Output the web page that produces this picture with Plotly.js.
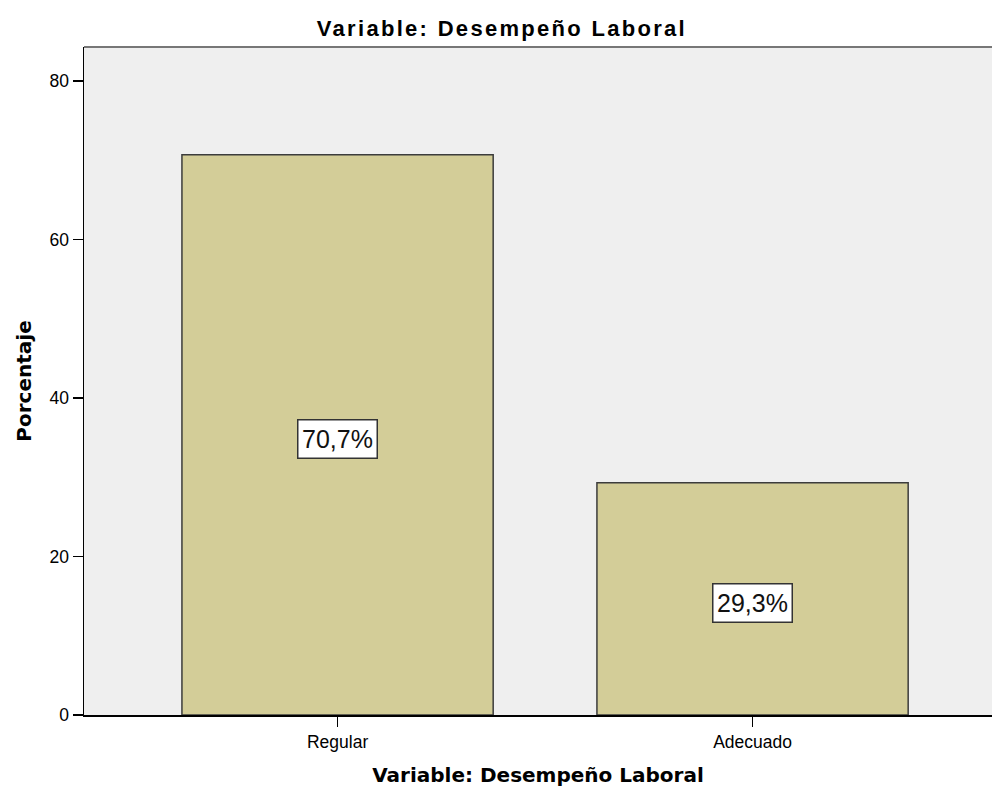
<!DOCTYPE html>
<html><head><meta charset="utf-8">
<script src="https://cdn.plot.ly/plotly-3.0.1.min.js"></script>
<style>
html,body{margin:0;padding:0;background:#fff}
#chart .gtitle{letter-spacing:2.3px}
</style>
</head><body>
<div id="chart" style="width:992px;height:792px"></div>
<script>
const categories = ["Regular", "Adecuado"];
const percentages = [70.7, 29.3];
const labels = ["70,7%", "29,3%"];
const yTicks = [0, 20, 40, 60, 80];

const trace = {
  type: "bar",
  x: categories,
  y: percentages,
  width: 0.75,
  marker: {color: "#D3CD98", line: {color: "#3c3c3c", width: 1.5}},
  hoverinfo: "skip"
};

const annotations = categories.map((c, i) => ({
  x: c, y: percentages[i] / 2, xref: "x", yref: "y", yshift: -4,
  text: labels[i], showarrow: false,
  font: {family: "Liberation Sans, Arial, sans-serif", size: 25, color: "#111"},
  bgcolor: "#ffffff", bordercolor: "#333", borderwidth: 1.5, borderpad: 1,
  width: 76, height: 35
}));

const layout = {
  width: 992, height: 792,
  margin: {l: 84, r: 0, t: 47, b: 77},
  paper_bgcolor: "#ffffff",
  plot_bgcolor: "#EFEFEF",
  showlegend: false,
  title: {text: "<b>Variable: Desempeño Laboral</b>", xref: "container", x: 0.506, xanchor: "center",
    yref: "container", y: 0.964, yanchor: "middle",
    font: {family: "Liberation Sans, Arial, sans-serif", size: 22, color: "#000"}},
  xaxis: {
    type: "category", range: [-0.611, 1.577],
    showline: true, linecolor: "#000", linewidth: 1.5,
    ticks: "outside", ticklen: 10, tickcolor: "#000", tickwidth: 1.5,
    tickfont: {family: "Liberation Sans, Arial, sans-serif", size: 17.5, color: "#000"},
    showgrid: false, zeroline: false,
    title: {text: "<b>Variable: Desempeño Laboral</b>", standoff: 17,
      font: {family: "DejaVu Sans, sans-serif", size: 20, color: "#000"}}
  },
  yaxis: {
    range: [0, 84.3], tickvals: yTicks, ticktext: yTicks.map(String),
    showline: true, linecolor: "#000", linewidth: 1.5,
    ticks: "outside", ticklen: 10, tickcolor: "#000", tickwidth: 1.5,
    tickfont: {family: "Liberation Sans, Arial, sans-serif", size: 17.5, color: "#000"},
    showgrid: false, zeroline: false,
    title: {text: "<b>Porcentaje</b>", standoff: 12,
      font: {family: "DejaVu Sans, sans-serif", size: 20, color: "#000"}}
  },
  shapes: [{type: "line", xref: "paper", yref: "paper", x0: 0, x1: 1, y0: 1, y1: 1,
    line: {color: "#777", width: 2}}],
  annotations: annotations
};

Plotly.newPlot("chart", [trace], layout, {displayModeBar: false, staticPlot: true});
</script>
</body></html>
